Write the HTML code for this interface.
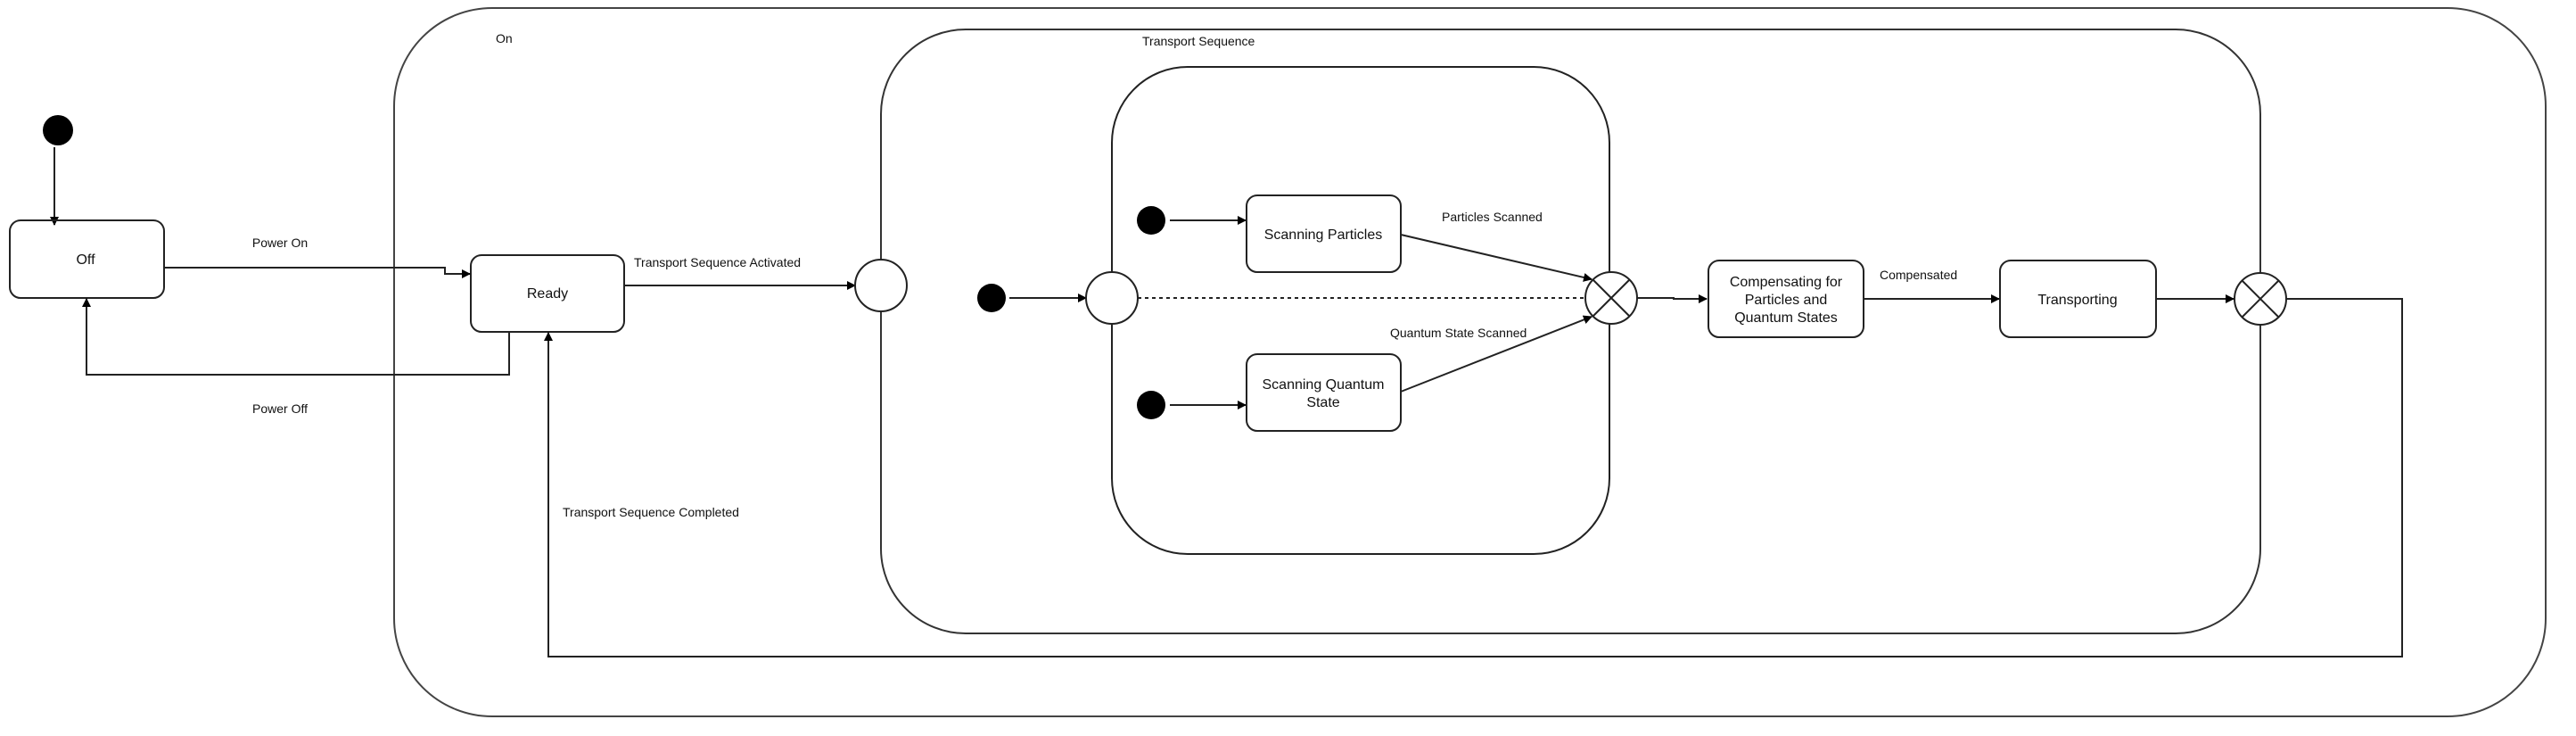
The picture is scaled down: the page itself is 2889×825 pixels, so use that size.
<!DOCTYPE html>
<html><head><style>html,body{margin:0;padding:0;background:#fff}</style></head>
<body>
<svg width="2889" height="820" viewBox="0 0 2889 820" xmlns="http://www.w3.org/2000/svg" font-family="Liberation Sans, Arial, sans-serif" fill="none" stroke="#222" stroke-width="2">
<defs>
<marker id="a" markerWidth="10" markerHeight="10" refX="9" refY="5" orient="auto" markerUnits="userSpaceOnUse"><path d="M0,0 L10,5 L0,10 z" fill="#000" stroke="none"/></marker>
</defs>
<!-- containers -->
<rect x="442" y="9" width="2413" height="794" rx="110" ry="110" stroke="#444"/>
<rect x="988" y="33" width="1547" height="677" rx="95" ry="95" stroke="#333"/>
<rect x="1247" y="75" width="558" height="546" rx="85" ry="85"/>
<!-- initial top -->
<circle cx="65" cy="146" r="17" fill="#000" stroke="none"/>
<line x1="61" y1="165" x2="61" y2="252" marker-end="url(#a)"/>
<rect x="11" y="247" width="173" height="87" rx="12"/>
<rect x="528" y="286" width="172" height="86" rx="12"/>
<!-- power on -->
<polyline points="184,300 499,300 499,307 527,307" marker-end="url(#a)"/>
<!-- power off -->
<polyline points="571,372 571,420 97,420 97,335" marker-end="url(#a)"/>
<!-- activated -->
<line x1="700" y1="320" x2="959" y2="320" marker-end="url(#a)"/>
<circle cx="988" cy="320" r="29" fill="#fff"/>
<!-- inner -->
<circle cx="1112" cy="334" r="16" fill="#000" stroke="none"/>
<line x1="1132" y1="334" x2="1218" y2="334" marker-end="url(#a)"/>
<circle cx="1247" cy="334" r="29" fill="#fff"/>
<line x1="1276" y1="334" x2="1776" y2="334" stroke-dasharray="4,4"/>
<circle cx="1291" cy="247" r="16" fill="#000" stroke="none"/>
<line x1="1312" y1="247" x2="1397" y2="247" marker-end="url(#a)"/>
<circle cx="1291" cy="454" r="16" fill="#000" stroke="none"/>
<line x1="1312" y1="454" x2="1397" y2="454" marker-end="url(#a)"/>
<rect x="1398" y="219" width="173" height="86" rx="12"/>
<rect x="1398" y="397" width="173" height="86" rx="12"/>
<line x1="1571" y1="263" x2="1785" y2="313" marker-end="url(#a)"/>
<line x1="1571" y1="439" x2="1785" y2="355" marker-end="url(#a)"/>
<g>
<circle cx="1807" cy="334" r="29" fill="#fff"/>
<line x1="1786" y1="313" x2="1828" y2="355"/><line x1="1828" y1="313" x2="1786" y2="355"/>
</g>
<polyline points="1836,334 1877,334 1877,335 1914,335" marker-end="url(#a)"/>
<rect x="1916" y="292" width="174" height="86" rx="12"/>
<line x1="2090" y1="335" x2="2242" y2="335" marker-end="url(#a)"/>
<rect x="2243" y="292" width="175" height="86" rx="12"/>
<line x1="2418" y1="335" x2="2505" y2="335" marker-end="url(#a)"/>
<g>
<circle cx="2535" cy="335" r="29" fill="#fff"/>
<line x1="2514" y1="314" x2="2556" y2="356"/><line x1="2556" y1="314" x2="2514" y2="356"/>
</g>
<polyline points="2564,335 2694,335 2694,736 615,736 615,373" marker-end="url(#a)"/>
<!-- text -->
<g fill="#111" stroke="none" font-size="14">
<text x="556" y="48">On</text>
<text x="1281" y="51">Transport Sequence</text>
<text x="314" y="277" text-anchor="middle">Power On</text>
<text x="314" y="463" text-anchor="middle">Power Off</text>
<text x="711" y="299">Transport Sequence Activated</text>
<text x="631" y="579">Transport Sequence Completed</text>
<text x="1617" y="248">Particles Scanned</text>
<text x="1559" y="378">Quantum State Scanned</text>
<text x="2108" y="313">Compensated</text>
</g>
<g fill="#111" stroke="none" font-size="16" text-anchor="middle">
<text x="96" y="296">Off</text>
<text x="614" y="334">Ready</text>
<text x="1484" y="268">Scanning Particles</text>
<text x="1484" y="436">Scanning Quantum</text>
<text x="1484" y="456">State</text>
<text x="2003" y="321">Compensating for</text>
<text x="2003" y="341">Particles and</text>
<text x="2003" y="361">Quantum States</text>
<text x="2330" y="341">Transporting</text>
</g>
</svg>
</body></html>
